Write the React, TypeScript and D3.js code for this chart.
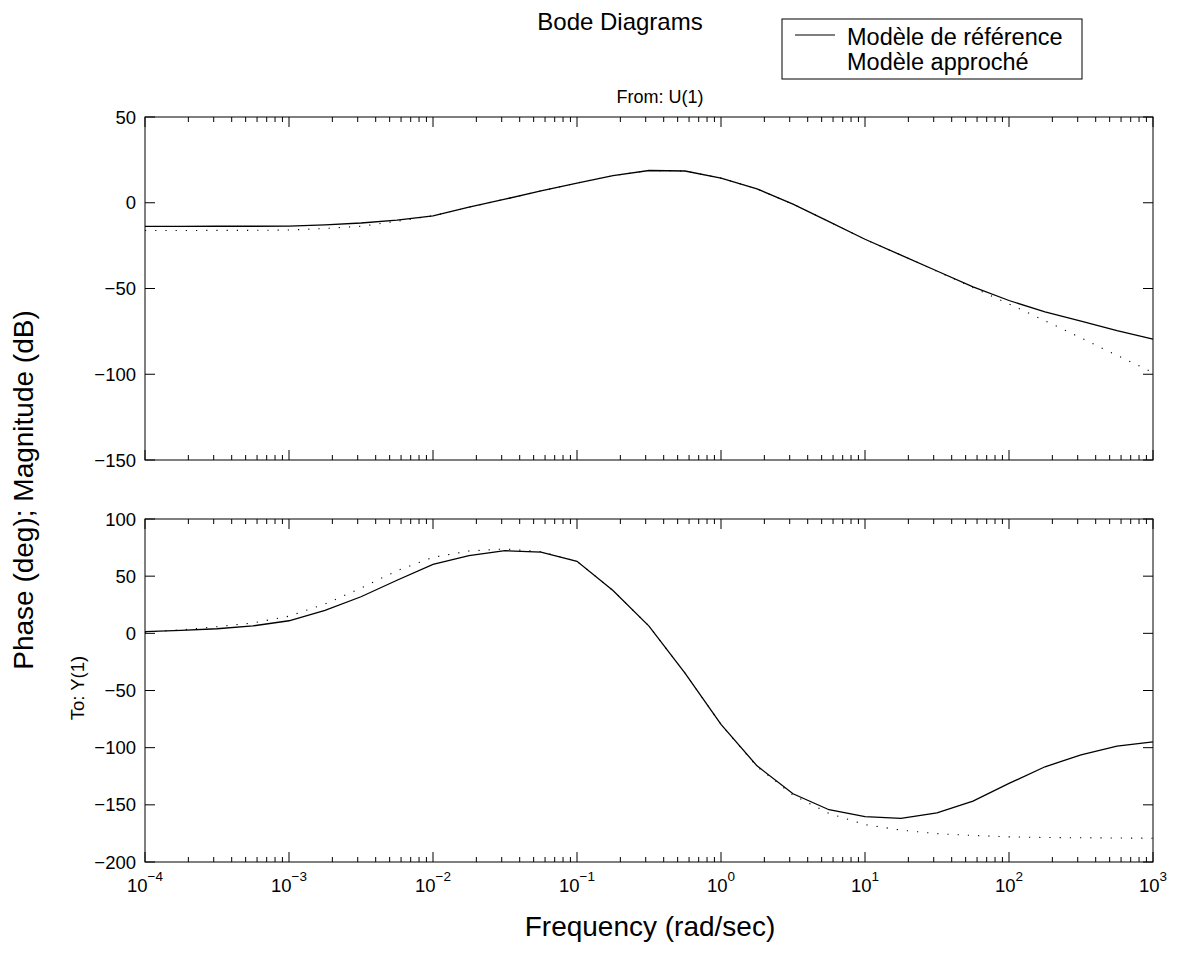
import * as d3 from "d3";
import { useRef, useEffect } from "react";

// frequencies (rad/sec), quarter decades from 1e-4 to 1e3
const freqs = [
  1e-4, 1.778e-4, 3.162e-4, 5.623e-4,
  1e-3, 1.778e-3, 3.162e-3, 5.623e-3,
  1e-2, 1.778e-2, 3.162e-2, 5.623e-2,
  1e-1, 1.778e-1, 3.162e-1, 5.623e-1,
  1, 1.778, 3.162, 5.623,
  10, 17.78, 31.62, 56.23,
  100, 177.8, 316.2, 562.3,
  1000
];

// magnitude (dB)
const magRef = [
  -13.8, -13.8, -13.7, -13.7, -13.6, -12.9, -11.8, -10.1, -7.6, -2.6,
  2.1, 6.9, 11.5, 15.8, 18.8, 18.5, 14.4, 8.1, -0.8, -11.0,
  -21.3, -30.5, -39.8, -49.0, -57.0, -63.6, -69.0, -74.5, -79.5
];
const magApprox = [
  -16.2, -16.2, -16.1, -16.1, -15.9, -15.0, -13.7, -10.8, -7.6, -2.6,
  2.1, 6.9, 11.5, 15.8, 18.8, 18.5, 14.4, 8.1, -0.8, -11.0,
  -21.3, -30.5, -39.9, -49.5, -59.0, -68.8, -78.8, -89.0, -99.0
];

// phase (deg)
const phaseRef = [
  1.5, 2.5, 4.0, 6.5, 11.0, 20.0, 32.0, 46.4, 60.3, 68.0,
  72.3, 71.0, 63.0, 37.5, 6.3, -34.8, -79.7, -115.9, -140.3, -154.3,
  -160.3, -161.8, -157.0, -146.8, -131.3, -116.7, -106.4, -98.7, -95.0
];
const phaseApprox = [
  1.0, 3.0, 5.8, 9.1, 15.0, 25.7, 39.5, 54.8, 66.5, 72.0,
  73.8, 71.5, 63.0, 37.5, 6.3, -34.8, -79.7, -116.5, -141.5, -157.5,
  -167.3, -172.1, -175.2, -176.8, -178.0, -178.6, -178.8, -179.0, -179.2
];

const magTicks = [-150, -100, -50, 0, 50];
const phaseTicks = [-200, -150, -100, -50, 0, 50, 100];
const decades = [-4, -3, -2, -1, 0, 1, 2, 3];
const legendLabels = ["Modèle de référence", "Modèle approché"];

const W = 1178;
const H = 960;
const left = 145;
const right = 1153;
const font = "'Liberation Sans', Arial, Helvetica, sans-serif";

const fmt = (v: number) => (v < 0 ? "\u2212" + Math.abs(v) : String(v));

function Panel({ top, bottom, domain, ticks, ref1, ref2, showX }: any) {
  const gx = useRef<SVGGElement>(null);
  const x = d3.scaleLog().domain([1e-4, 1e3]).range([left, right]);
  const y = d3.scaleLinear().domain(domain).range([bottom, top]);
  const line = d3.line<number>((d, i) => x(freqs[i]), (d) => y(d));

  const minor: number[] = [];
  decades.slice(0, -1).forEach((e) => {
    for (let k = 2; k <= 9; k++) minor.push(k * Math.pow(10, e));
  });
  const major = decades.map((e) => Math.pow(10, e));

  useEffect(() => {
    const g = d3.select(gx.current);
    g.selectAll("*").remove();
    const mk = (vals: number[], len: number) => {
      vals.forEach((v) => {
        g.append("line").attr("x1", x(v)).attr("x2", x(v)).attr("y1", bottom).attr("y2", bottom - len);
        g.append("line").attr("x1", x(v)).attr("x2", x(v)).attr("y1", top).attr("y2", top + len);
      });
    };
    mk(major, 10);
    mk(minor, 5);
    ticks.forEach((t: number) => {
      g.append("line").attr("x1", left).attr("x2", left + 10).attr("y1", y(t)).attr("y2", y(t));
      g.append("line").attr("x1", right).attr("x2", right - 10).attr("y1", y(t)).attr("y2", y(t));
    });
    g.attr("stroke", "#000").attr("stroke-width", 1);
  }, []);

  return (
    <g>
      <path d={line(ref2) || ""} fill="none" stroke="#000" strokeWidth={1.1} strokeDasharray="1.2 9" />
      <path d={line(ref1) || ""} fill="none" stroke="#000" strokeWidth={1.3} />
      <rect x={left} y={top} width={right - left} height={bottom - top} fill="none" stroke="#000" strokeWidth={1} />
      <g ref={gx} />
      <g fontFamily={font} fontSize={18.5} fill="#000">
        {ticks.map((t: number) => (
          <text key={t} x={left - 9} y={y(t)} dy="0.36em" textAnchor="end">{fmt(t)}</text>
        ))}
        {showX &&
          decades.map((e) => (
            <text key={e} x={x(Math.pow(10, e))} y={bottom + 30} textAnchor="middle">
              10<tspan dy={-11} fontSize={13.5}>{fmt(e)}</tspan>
            </text>
          ))}
      </g>
    </g>
  );
}

export default function App() {
  return (
    <svg width={W} height={H} style={{ position: "absolute", left: 0, top: 0, background: "#fff" }}>
      <rect width={W} height={H} fill="#fff" />
      <Panel top={117} bottom={460} domain={[-150, 50]} ticks={magTicks} ref1={magRef} ref2={magApprox} showX={false} />
      <Panel top={519} bottom={862} domain={[-200, 100]} ticks={phaseTicks} ref1={phaseRef} ref2={phaseApprox} showX={true} />
      <g fontFamily={font} fill="#000">
        <text x={620} y={30} textAnchor="middle" fontSize={24}>Bode Diagrams</text>
        <text x={660} y={103} textAnchor="middle" fontSize={18}>From: U(1)</text>
        <text x={650} y={936} textAnchor="middle" fontSize={28}>Frequency (rad/sec)</text>
        <text transform="translate(33,490) rotate(-90)" textAnchor="middle" fontSize={28}>Phase (deg); Magnitude (dB)</text>
        <text transform="translate(84,688) rotate(-90)" textAnchor="middle" fontSize={18.5}>To: Y(1)</text>
      </g>
      <g fontFamily={font} fill="#000">
        <rect x={782} y={19} width={300} height={60} fill="#fff" stroke="#000" strokeWidth={1} />
        <line x1={795} x2={835} y1={35} y2={35} stroke="#000" strokeWidth={1.1} />
        <text x={847} y={45} fontSize={23.5}>{legendLabels[0]}</text>
        <text x={847} y={70} fontSize={23.5}>{legendLabels[1]}</text>
      </g>
    </svg>
  );
}
